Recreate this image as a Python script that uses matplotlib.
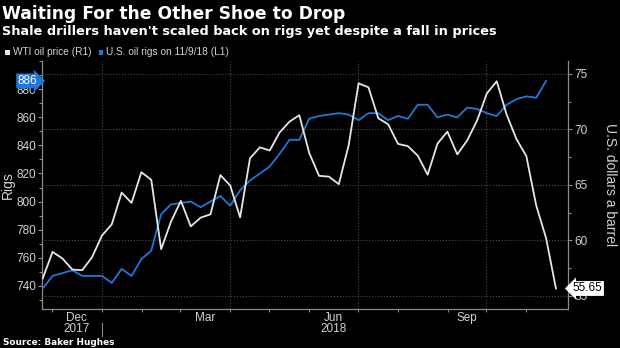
import numpy as np
import matplotlib.pyplot as plt
from matplotlib.patches import Rectangle
from matplotlib.transforms import blended_transform_factory

# weekly U.S. oil rig count (left axis), 17 Nov 2017 .. 9 Nov 2018
rigs = [738, 747, 749, 751, 747, 747, 747, 742, 752, 747, 759, 765, 791, 798,
        799, 800, 796, 800, 804, 797, 808, 815, 820, 825, 834, 844, 844, 859,
        861, 862, 863, 862, 858, 863, 863, 858, 861, 859, 869, 869, 860, 862,
        860, 867, 866, 863, 861, 869, 873, 875, 874, 886]
# WTI oil price, dollars a barrel (right axis), one point more than rigs
wti = [56.55, 58.95, 58.36, 57.36, 57.30, 58.47, 60.42, 61.44, 64.30, 63.37,
       66.14, 65.45, 59.20, 61.68, 63.55, 61.25, 62.04, 62.34, 65.88, 64.94,
       62.06, 67.39, 68.38, 68.10, 69.72, 70.70, 71.28, 67.88, 65.81, 65.74,
       65.06, 68.58, 74.15, 73.80, 71.01, 70.46, 68.69, 68.49, 67.63, 65.91,
       68.72, 69.80, 67.75, 68.99, 70.78, 73.25, 74.34, 71.34, 69.12, 67.59,
       63.14, 60.19, 55.65]
month_labels = ["Dec", "Mar", "Jun", "Sep"]
year_labels = ["2017", "2018"]

# x axis is in weeks from the first point
month_label_pos = [3.41, 16.44, 29.47, 42.93]
year_label_pos = [3.41, 29.47]
quarter_pos = [6.01, 18.98, 31.95, 44.91]
month_tick_pos = [0.99, 6.01, 10.04, 13.91, 18.98, 22.93, 26.94, 31.95,
                  36.0, 41.07, 44.91, 48.97]

BLUE = "#1f78d6"
WHITE = "#e6e6e6"
GREY = "#8c8c8c"
LABEL = "#d2d2d2"
GRID = "#4a4a4a"

plt.rcParams["font.family"] = ["Liberation Sans", "DejaVu Sans"]

W, H = 620, 348
fig = plt.figure(figsize=(W / 100, H / 100), dpi=100, facecolor="black")
ax = fig.add_axes([42 / W, (H - 309) / H, 526 / W, 248 / H])
ax.set_facecolor("black")
ax2 = ax.twinx()

ax.plot(np.arange(len(rigs)), rigs, color=BLUE, lw=1.3, zorder=3)
ax2.plot(np.arange(len(wti)), wti, color=WHITE, lw=1.3, zorder=3)

ax.set_xlim(-0.07, 53.22)
ax.set_ylim(723.4, 900.2)
ax2.set_ylim(53.8, 76.17)

# spines
for a in (ax, ax2):
    for s in a.spines.values():
        s.set_visible(False)
ax.spines["left"].set_visible(True)
ax.spines["bottom"].set_visible(True)
ax2.spines["right"].set_visible(True)
for s in (ax.spines["left"], ax.spines["bottom"], ax2.spines["right"]):
    s.set_color(GREY)
    s.set_linewidth(0.9)

# left ticks
ax.set_yticks(np.arange(740, 881, 20))
ax.set_yticks(np.arange(730, 901, 10), minor=True)
ax.tick_params(axis="y", which="major", length=3, width=0.8, color=GREY,
               labelcolor=LABEL, labelsize=8.5, pad=1.5)
ax.tick_params(axis="y", which="minor", length=2, width=0.8, color=GREY)

# right ticks
ax2.set_yticks(np.arange(55, 76, 5))
ax2.set_yticks(np.arange(55, 76, 2.5), minor=True)
ax2.tick_params(axis="y", which="major", length=3, width=0.8, color=GREY,
                labelcolor=LABEL, labelsize=8.5, pad=1.5)
ax2.tick_params(axis="y", which="minor", length=2, width=0.8, color=GREY)
ax2.yaxis.grid(True, which="major", linestyle=":", color=GRID, lw=0.8)

# x ticks
ax.set_xticks(month_label_pos, month_labels)
ax.set_xticks(month_tick_pos, minor=True)
ax.tick_params(axis="x", which="major", length=0, labelcolor=LABEL,
               labelsize=8.5, pad=2.5)
ax.tick_params(axis="x", which="minor", length=2, width=0.8, color=GREY)
for q in quarter_pos:
    ax.axvline(q, color=GRID, linestyle=":", lw=0.8, zorder=1)

trans = blended_transform_factory(ax.transData, ax.transAxes)
for pos, lab in zip(year_label_pos, year_labels):
    ax.text(pos, -0.081, lab, transform=trans, ha="center", va="center",
            color=LABEL, fontsize=8.5)
ax.plot([quarter_pos[0]] * 2, [-0.057, -0.107], transform=trans,
        clip_on=False, color=GREY, lw=0.8)

# last value tags
ax.text(-0.009, rigs[-1], f"{rigs[-1]}",
        transform=blended_transform_factory(ax.transAxes, ax.transData),
        ha="right", va="center", color="white", fontsize=8.5, zorder=10,
        bbox=dict(boxstyle="rarrow,pad=0.12", fc=BLUE, ec="none"))
ax2.text(1.009, wti[-1], f"{wti[-1]:.2f}",
         transform=blended_transform_factory(ax2.transAxes, ax2.transData),
         ha="left", va="center", color="black", fontsize=8.5, zorder=10,
         bbox=dict(boxstyle="larrow,pad=0.12", fc="white", ec="none"))

# axis titles
fig.text(8 / W, 1 - 185 / H, "Rigs", rotation=90, ha="center", va="center",
         color=LABEL, fontsize=10)
fig.text(610 / W, 1 - 185 / H, "U.S. dollars a barrel", rotation=-90,
         ha="center", va="center", color=LABEL, fontsize=10)

# header
fig.text(2 / W, 1 - 19 / H, "Waiting For the Other Shoe to Drop",
         family="DejaVu Sans", weight="bold", fontsize=12.3, color="white",
         va="baseline")
fig.text(2 / W, 1 - 34.5 / H,
         "Shale drillers haven't scaled back on rigs yet despite a fall in prices",
         family="DejaVu Sans", weight="bold", fontsize=9.3, color="white",
         va="baseline")

# legend
fig.patches.append(Rectangle((5 / W, 1 - 54.5 / H), 4.5 / W, 4.5 / H,
                             transform=fig.transFigure, fc=WHITE, ec="none"))
fig.text(13 / W, 1 - 52 / H, "WTI oil price (R1)", color=LABEL, fontsize=7.3,
         va="center")
fig.patches.append(Rectangle((98.5 / W, 1 - 54.5 / H), 4.5 / W, 4.5 / H,
                             transform=fig.transFigure, fc=BLUE, ec="none"))
fig.text(106 / W, 1 - 52 / H, "U.S. oil rigs on 11/9/18 (L1)", color=LABEL,
         fontsize=7.3, va="center")

fig.text(3 / W, 1 - 342.5 / H, "Source: Baker Hughes", family="DejaVu Sans",
         weight="bold", fontsize=6.4, color="white", va="center")

fig.savefig("out.png", dpi=100, facecolor="black")
